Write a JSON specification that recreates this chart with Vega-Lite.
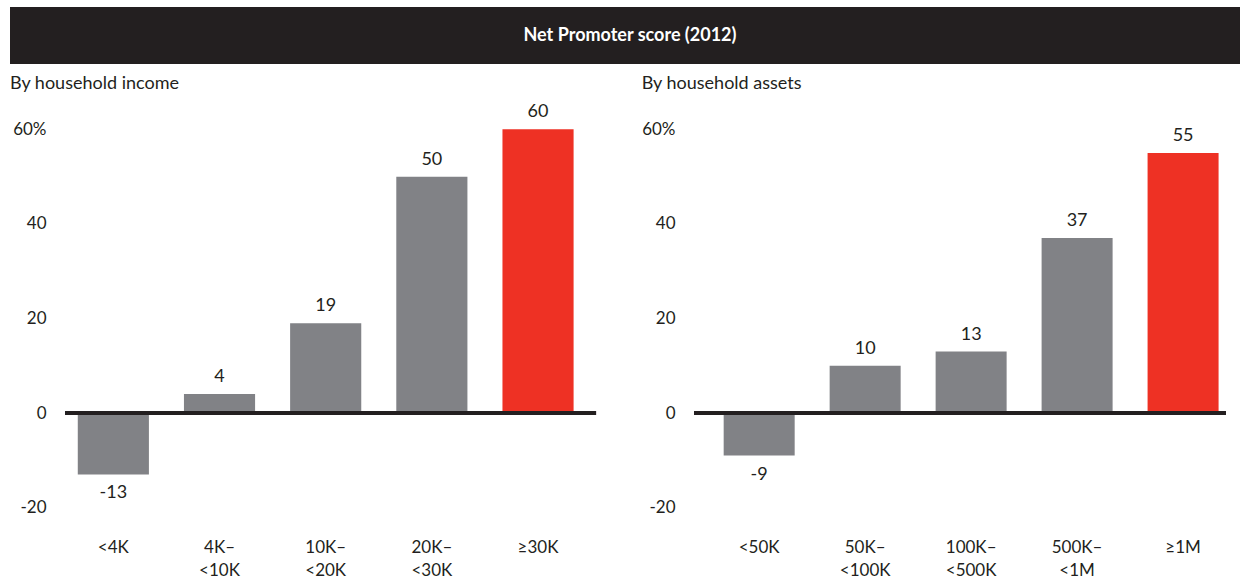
{
  "$schema": "https://vega.github.io/schema/vega-lite/v6.json",
  "padding": {"left": 10, "top": 7, "right": 8, "bottom": 0},
  "background": "white",
  "config": {
    "view": {"stroke": null},
    "font": "Lato",
    "axis": {"labelFont": "Lato", "labelColor": "#231f20", "labelFontSize": 17, "grid": false, "domain": false, "ticks": false, "title": null},
    "title": {"font": "Lato", "fontSize": 18, "fontWeight": "normal", "color": "#231f20", "anchor": "start", "frame": "bounds", "offset": 8}
  },
  "datasets": {
    "income": [
      {"cat": "<4K", "v": -13},
      {"cat": "4K– <10K", "v": 4},
      {"cat": "10K– <20K", "v": 19},
      {"cat": "20K– <30K", "v": 50},
      {"cat": "≥30K", "v": 60}
    ],
    "assets": [
      {"cat": "<50K", "v": -9},
      {"cat": "50K– <100K", "v": 10},
      {"cat": "100K– <500K", "v": 13},
      {"cat": "500K– <1M", "v": 37},
      {"cat": "≥1M", "v": 55}
    ],
    "title": [{"t": "Net Promoter score (2012)"}]
  },
  "spacing": 11,
  "align": "none",
  "vconcat": [
    {
      "width": 1230,
      "height": 57,
      "view": {"fill": "#231f20", "stroke": null},
      "data": {"name": "title"},
      "mark": {"type": "text", "color": "white", "fontWeight": "bold", "fontSize": 18, "font": "Lato", "dx": 5},
      "encoding": {"text": {"field": "t", "type": "nominal"}}
    },
    {
      "spacing": 42,
      "hconcat": [
        {
          "title": {"text": "By household income"},
          "width": 585,
          "height": 416,
          "data": {"name": "income"},
          "encoding": {
            "x": {"field": "cat", "type": "nominal", "sort": null,
                  "scale": {"paddingInner": 0.33, "paddingOuter": 0.42, "align": 0.76},
                  "axis": {"labelAngle": 0, "labelPadding": 22, "labelLineHeight": 23, "labelBaseline": "top", "labelExpr": "split(datum.label, ' ')"}},
            "y": {"field": "v", "type": "quantitative",
                  "scale": {"domain": [-22, 66], "nice": false, "zero": false},
                  "axis": {"values": [-20, 0, 20, 40, 60], "offset": -51, "labelPadding": 15, "labelExpr": "datum.value == 60 ? '60%' : toString(datum.value)"}}
          },
          "layer": [
            {
              "mark": {"type": "bar"},
              "encoding": {
                "color": {"condition": {"test": "datum.cat == '≥30K'", "value": "#ee3124"}, "value": "#818286"}
              }
            },
            {
              "transform": [{"filter": "datum.v >= 0"}],
              "mark": {"type": "text", "baseline": "bottom", "dy": -8, "fontSize": 18, "color": "#231f20", "font": "Lato"},
              "encoding": {"text": {"field": "v", "type": "nominal"}}
            },
            {
              "transform": [{"filter": "datum.v < 0"}],
              "mark": {"type": "text", "baseline": "top", "dy": 10, "fontSize": 18, "color": "#231f20", "font": "Lato"},
              "encoding": {"text": {"field": "v", "type": "nominal"}}
            },
            {
              "mark": {"type": "rule", "strokeWidth": 4, "color": "#231f20", "xOffset": -48, "x2Offset": 58},
              "encoding": {"y": {"datum": 0}, "x": {"datum": "<4K"}, "x2": {"datum": "≥30K"}}
            }
          ]
        },
        {
          "title": {"text": "By household assets"},
          "width": 532,
          "height": 416,
          "data": {"name": "assets"},
          "encoding": {
            "x": {"field": "cat", "type": "nominal", "sort": null,
                  "scale": {"paddingInner": 0.33, "paddingOuter": 0.175, "align": 0.8},
                  "axis": {"labelAngle": 0, "labelPadding": 22, "labelLineHeight": 23, "labelBaseline": "top", "labelExpr": "split(datum.label, ' ')"}},
            "y": {"field": "v", "type": "quantitative",
                  "scale": {"domain": [-22, 66], "nice": false, "zero": false},
                  "axis": {"values": [-20, 0, 20, 40, 60], "labelPadding": 19, "labelExpr": "datum.value == 60 ? '60%' : toString(datum.value)"}}
          },
          "layer": [
            {
              "mark": {"type": "bar"},
              "encoding": {
                "color": {"condition": {"test": "datum.cat == '≥1M'", "value": "#ee3124"}, "value": "#818286"}
              }
            },
            {
              "transform": [{"filter": "datum.v >= 0"}],
              "mark": {"type": "text", "baseline": "bottom", "dy": -8, "fontSize": 18, "color": "#231f20", "font": "Lato"},
              "encoding": {"text": {"field": "v", "type": "nominal"}}
            },
            {
              "transform": [{"filter": "datum.v < 0"}],
              "mark": {"type": "text", "baseline": "top", "dy": 10, "fontSize": 18, "color": "#231f20", "font": "Lato"},
              "encoding": {"text": {"field": "v", "type": "nominal"}}
            },
            {
              "mark": {"type": "rule", "strokeWidth": 4, "color": "#231f20"},
              "encoding": {"y": {"datum": 0}, "x": null}
            }
          ]
        }
      ]
    }
  ]
}
